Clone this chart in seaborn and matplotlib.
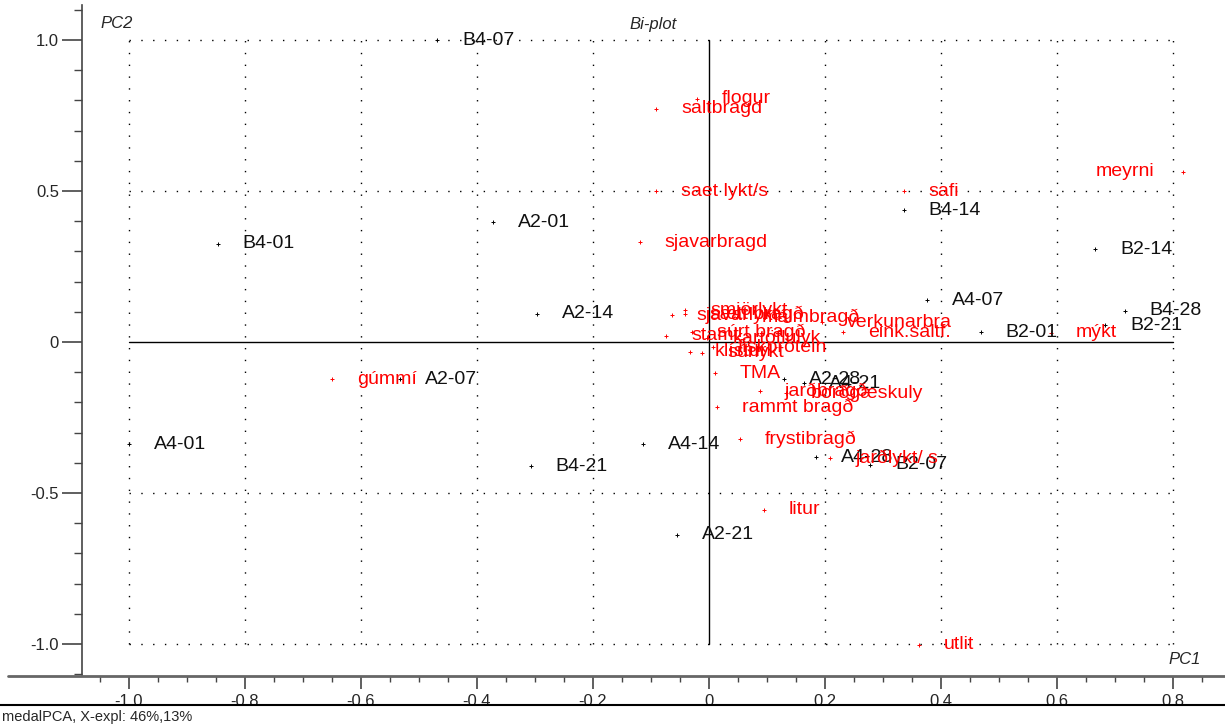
import numpy as np
import pandas as pd
import matplotlib
matplotlib.use("Agg")
import matplotlib.pyplot as plt
import seaborn as sns
from matplotlib.lines import Line2D
from matplotlib.ticker import MultipleLocator

# --- scores (samples) ---
sample_names = ["B4-07", "B4-01", "A2-01", "A2-14", "A2-07", "A4-01", "B4-21",
                "A4-14", "A2-21", "A2-28", "A4-21", "A4-28", "B2-07", "B4-14",
                "A4-07", "B2-01", "B2-14", "B4-28", "B2-21"]
sample_pc1 = [-0.469, -0.847, -0.372, -0.297, -0.533, -1.000, -0.307,
              -0.114, -0.055, 0.129, 0.164, 0.184, 0.278, 0.336,
              0.376, 0.469, 0.666, 0.717, 0.683]
sample_pc2 = [1.000, 0.325, 0.397, 0.093, -0.123, -0.338, -0.411,
              -0.338, -0.639, -0.123, -0.136, -0.381, -0.407, 0.437,
              0.139, 0.033, 0.308, 0.103, 0.056]

# --- loadings (sensory attributes) ---
var_names = ["flogur", "saltbragd", "saet lykt/s", "sjavarbragd", "meyrni", "safi",
             "verkunarbra", "eink.saltf.", "mýkt", "sjavarlykt", "smjörlykt",
             "sætt bragð", "málmbragð", "stamt", "súrt bragð", "kartöflulyk",
             "klístur", "súrlykt", "fiskprótein", "TMA", "jarðbragð", "borðgæskuly",
             "rammt bragð", "frystibragð", "jarðlykt/ s", "litur", "utlit", "gúmmí"]
var_pc1 = [-0.021, -0.091, -0.091, -0.119, 0.817, 0.336,
           0.195, 0.231, 0.590, -0.064, -0.041,
           -0.041, 0.048, -0.074, -0.029, -0.003,
           -0.033, -0.012, 0.007, 0.010, 0.088, 0.133,
           0.014, 0.053, 0.209, 0.095, 0.362, -0.650]
var_pc2 = [0.805, 0.772, 0.500, 0.331, 0.563, 0.500,
           0.066, 0.033, 0.030, 0.089, 0.106,
           0.093, 0.083, 0.020, 0.033, 0.013,
           -0.033, -0.036, -0.017, -0.103, -0.162, -0.169,
           -0.215, -0.321, -0.384, -0.556, -1.003, -0.123]
# attributes whose label sits to the left of the point
left_labels = ["meyrni"]

W, H = 1225, 728
sns.set_style("white")
plt.rcParams["font.family"] = ["Liberation Sans", "DejaVu Sans"]

fig = plt.figure(figsize=(W / 100, H / 100), dpi=100)
ax = fig.add_axes([82 / W, 1 - 676 / H, (W - 82) / W, (676 - 5) / H])

x0, y0 = -1.081, -1.106
x1, y1 = 0.890, 1.116
ax.set_xlim(x0, x1)
ax.set_ylim(y0, y1)

# dotted reference grid
dots = (0, (1, 7.5))
for gx in [-1.0, -0.8, -0.6, -0.4, -0.2, 0.2, 0.4, 0.6, 0.8]:
    ax.plot([gx, gx], [-1.0, 1.0], color="black", lw=1.0, linestyle=dots, zorder=1)
for gy in [-1.0, -0.5, 0.5, 1.0]:
    ax.plot([-1.0, 0.8], [gy, gy], color="black", lw=1.0, linestyle=dots, zorder=1)
ax.plot([0, 0], [-1.0, 1.0], color="black", lw=1.0, zorder=1)
ax.plot([-1.0, 0.8], [0, 0], color="black", lw=1.0, zorder=1)

scores = pd.DataFrame({"PC1": sample_pc1, "PC2": sample_pc2, "name": sample_names})
loads = pd.DataFrame({"PC1": var_pc1, "PC2": var_pc2, "name": var_names})

sns.scatterplot(data=scores, x="PC1", y="PC2", marker="+", s=12, color="black",
                linewidth=0.7, ax=ax, zorder=3, legend=False)
sns.scatterplot(data=loads, x="PC1", y="PC2", marker="+", s=12, color="red",
                linewidth=0.7, ax=ax, zorder=3, legend=False)

LABEL_FS = 14
for n, x, y in zip(sample_names, sample_pc1, sample_pc2):
    ax.annotate(n, (x, y), xytext=(18, 0), textcoords="offset points",
                ha="left", va="center", fontsize=LABEL_FS, color="#111111", zorder=4)
for n, x, y in zip(var_names, var_pc1, var_pc2):
    if n in left_labels:
        ax.annotate(n, (x, y), xytext=(-20, 0), textcoords="offset points",
                    ha="right", va="center", fontsize=LABEL_FS, color="red", zorder=4)
    else:
        ax.annotate(n, (x, y), xytext=(18, 0), textcoords="offset points",
                    ha="left", va="center", fontsize=LABEL_FS, color="red", zorder=4)

# axes frame and ticks
for s in ["top", "right", "bottom"]:
    ax.spines[s].set_visible(False)
ax.spines["left"].set_color("#444444")
ax.spines["left"].set_linewidth(1.2)
ax.set_xlabel("")
ax.set_ylabel("")

ax.xaxis.set_major_locator(MultipleLocator(0.2))
ax.xaxis.set_minor_locator(MultipleLocator(0.05))
ax.yaxis.set_major_locator(MultipleLocator(0.5))
ax.yaxis.set_minor_locator(MultipleLocator(0.1))
ax.tick_params(axis="y", which="major", direction="out", length=14.5, width=1.2,
               color="#444444", labelsize=12, pad=2, left=True)
ax.tick_params(axis="y", which="minor", direction="out", length=6, width=1.0,
               color="#444444", left=True)
ax.tick_params(axis="x", which="major", direction="out", length=9, width=1.2,
               color="#444444", labelsize=12, pad=4, bottom=True)
ax.tick_params(axis="x", which="minor", direction="out", length=4, width=1.0,
               color="#444444", bottom=True)


def fmt(v, _):
    if abs(v) < 1e-9:
        return "0"
    return f"{v:.1f}"


ax.xaxis.set_major_formatter(fmt)
ax.yaxis.set_major_formatter(fmt)

# full-width baseline and footer rule
fig.add_artist(Line2D([8 / W, 1], [1 - 676 / H] * 2, color="#666666", lw=2.0))
fig.add_artist(Line2D([0, 1], [1 - 705 / H] * 2, color="black", lw=1.5))
fig.text(2 / W, 1 - 717 / H, "medalPCA, X-expl: 46%,13%", fontsize=10.5,
         ha="left", va="center")

fig.text(100 / W, 1 - 23 / H, "PC2", fontsize=12, style="italic", ha="left", va="center")
fig.text(653 / W, 1 - 24 / H, "Bi-plot", fontsize=12, style="italic", ha="center", va="center")
fig.text(1185 / W, 1 - 660 / H, "PC1", fontsize=12, style="italic", ha="center", va="center")

fig.savefig("out.png", dpi=100)
